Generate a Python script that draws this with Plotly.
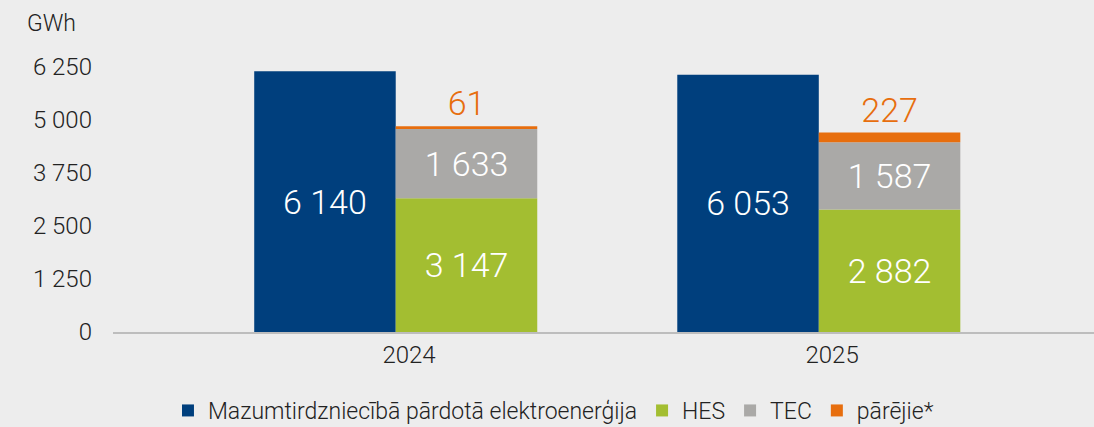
import plotly.graph_objects as go

years = ["2024", "2025"]
retail = [6140, 6053]
hes = [3147, 2882]
tec = [1633, 1587]
other = [61, 227]
y_ticks = [0, 1250, 2500, 3750, 5000, 6250]
y_tick_labels = ["0", "1 250", "2 500", "3 750", "5 000", "6 250"]

names = ["Mazumtirdzniecībā pārdotā elektroenerģija", "HES", "TEC", "pārējie*"]
colors = ["#003f7d", "#a3be31", "#aaa9a7", "#e76e0e"]


def fmt(v):
    return f"{v:,}".replace(",", " ")


x = list(range(len(years)))
bw = 0.3345
font = "Roboto"
lbl = dict(color="white", size=34, family=font, weight=300)

fig = go.Figure()
fig.add_trace(go.Bar(x=x, y=retail, base=0, offset=-0.366, width=bw, name=names[0],
                     marker=dict(color=colors[0], line_width=0),
                     text=[fmt(v) for v in retail], textposition="inside",
                     insidetextanchor="middle", textfont=lbl))
fig.add_trace(go.Bar(x=x, y=hes, base=0, offset=-0.0315, width=bw, name=names[1],
                     marker=dict(color=colors[1], line_width=0),
                     text=[fmt(v) for v in hes], textposition="inside",
                     insidetextanchor="middle", textfont=lbl))
fig.add_trace(go.Bar(x=x, y=tec, base=hes, offset=-0.0315, width=bw, name=names[2],
                     marker=dict(color=colors[2], line_width=0),
                     text=[fmt(v) for v in tec], textposition="inside",
                     insidetextanchor="middle", textfont=lbl))
fig.add_trace(go.Bar(x=x, y=other, base=[h + t for h, t in zip(hes, tec)], offset=-0.0315,
                     width=bw, name=names[3],
                     marker=dict(color=colors[3], line_width=0),
                     text=[fmt(v) for v in other], textposition="outside",
                     textfont=dict(color=colors[3], size=34, family=font, weight=300),
                     cliponaxis=False))

fig.update_layout(
    width=1094, height=427,
    barmode="overlay",
    paper_bgcolor="#ededed", plot_bgcolor="#ededed",
    margin=dict(l=113, r=0, t=58, b=95, autoexpand=False),
    font=dict(family=font, size=24, color="#222222", weight=300),
    showlegend=True,
    legend=dict(orientation="h", x=0.449, xanchor="center", y=-0.208, yanchor="top",
                font=dict(size=23, color="#222222", weight=300), itemwidth=30,
                bgcolor="rgba(0,0,0,0)"),
    annotations=[dict(text="GWh", xref="paper", yref="paper", x=-0.09, y=1.125,
                      xanchor="left", yanchor="middle", showarrow=False,
                      font=dict(size=23, color="#222222", weight=300))],
)
fig.update_xaxes(range=[-0.6998, 1.619], tickvals=x, ticktext=years,
                 showgrid=False, zeroline=False, showline=True,
                 linecolor="#bdbdbd", linewidth=2, ticks="",
                 tickfont=dict(size=24), fixedrange=True)
fig.update_yaxes(range=[0, 6450], tickvals=y_ticks, ticktext=y_tick_labels,
                 showgrid=False, zeroline=False, showline=False, ticks="",
                 ticklabelstandoff=20, tickfont=dict(size=24), fixedrange=True)

fig.write_html("out.html", config={"displayModeBar": False},
               post_script="document.body.style.margin='0';")
